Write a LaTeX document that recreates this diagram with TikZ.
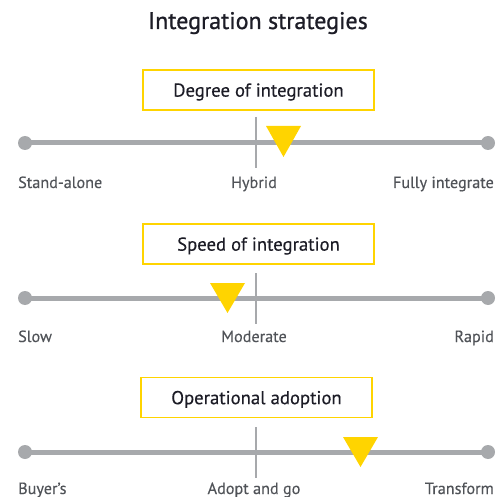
\documentclass[tikz,border=0pt]{standalone}
\usepackage{fontspec}
\setmainfont{PT Sans}[FakeBold=0.3]
\newfontfamily\titlefont{PT Sans}[FakeBold=0.9]
\definecolor{eyyellow}{RGB}{255,212,0}
\definecolor{bargray}{RGB}{167,169,172}
\definecolor{labelgray}{RGB}{80,83,88}
\definecolor{titleink}{RGB}{28,28,38}
\tikzset{
  scalebox/.style={draw=eyyellow, line width=1.8pt, minimum width=231pt, minimum height=40pt,
    text depth=0pt, text=titleink, font=\fontsize{18.7}{20}\selectfont},
  bar/.style={bargray, line width=5pt},
  midtick/.style={bargray, line width=2pt},
  pointer/.style={fill=eyyellow},
  scalelabel/.style={text=labelgray, font=\fontsize{16.2}{18}\selectfont, inner sep=0pt}
}

\begin{document}
\begin{tikzpicture}[x=1pt,y=-1pt]
    \useasboundingbox (0,0) rectangle (503,497);
    \node[text=titleink, font=\titlefont\fontsize{24}{27}\selectfont, anchor=base] (title) at (258,29) {Integration strategies};

    % degree of integration
    \node[scalebox] (degree) at (258.5,90) {Degree of integration};
    \coordinate (degreeL) at (25,143);
    \coordinate (degreeR) at (488,143);
    \draw[bar] (degreeL) -- (degreeR);
    \fill[bargray] (degreeL) circle (7pt) (degreeR) circle (7pt);
    \draw[midtick] (256,117) -- (256,168);
    \fill[pointer] (266,126) -- (301,126) -- (283.5,157) -- cycle;
    \node[scalelabel, anchor=base west] (standalone) at (18,188) {Stand-alone};
    \node[scalelabel, anchor=base] (hybrid) at (254,188) {Hybrid};
    \node[scalelabel, anchor=base east] (fully) at (494,188) {Fully integrate};

    % speed of integration
    \node[scalebox] (speed) at (258.5,244) {Speed of integration};
    \coordinate (speedL) at (25,298);
    \coordinate (speedR) at (488,298);
    \draw[bar] (speedL) -- (speedR);
    \fill[bargray] (speedL) circle (7pt) (speedR) circle (7pt);
    \draw[midtick] (256,273) -- (256,324);
    \fill[pointer] (210,283) -- (245,283) -- (227.5,313) -- cycle;
    \node[scalelabel, anchor=base west] (slow) at (18,342) {Slow};
    \node[scalelabel, anchor=base] (moderate) at (254,342) {Moderate};
    \node[scalelabel, anchor=base east] (rapid) at (494,342) {Rapid};

    % operational adoption
    \node[scalebox] (adoption) at (256.5,397.5) {Operational adoption};
    \coordinate (adoptionL) at (25,452);
    \coordinate (adoptionR) at (488,452);
    \draw[bar] (adoptionL) -- (adoptionR);
    \fill[bargray] (adoptionL) circle (7pt) (adoptionR) circle (7pt);
    \draw[midtick] (256,427) -- (256,478);
    \fill[pointer] (343,437) -- (378,437) -- (360.5,467) -- cycle;
    \node[scalelabel, anchor=base west] (buyers) at (18,494) {Buyer’s};
    \node[scalelabel, anchor=base] (adoptgo) at (254,494) {Adopt and go};
    \node[scalelabel, anchor=base east] (transform) at (494,494) {Transform};
\end{tikzpicture}
\end{document}
